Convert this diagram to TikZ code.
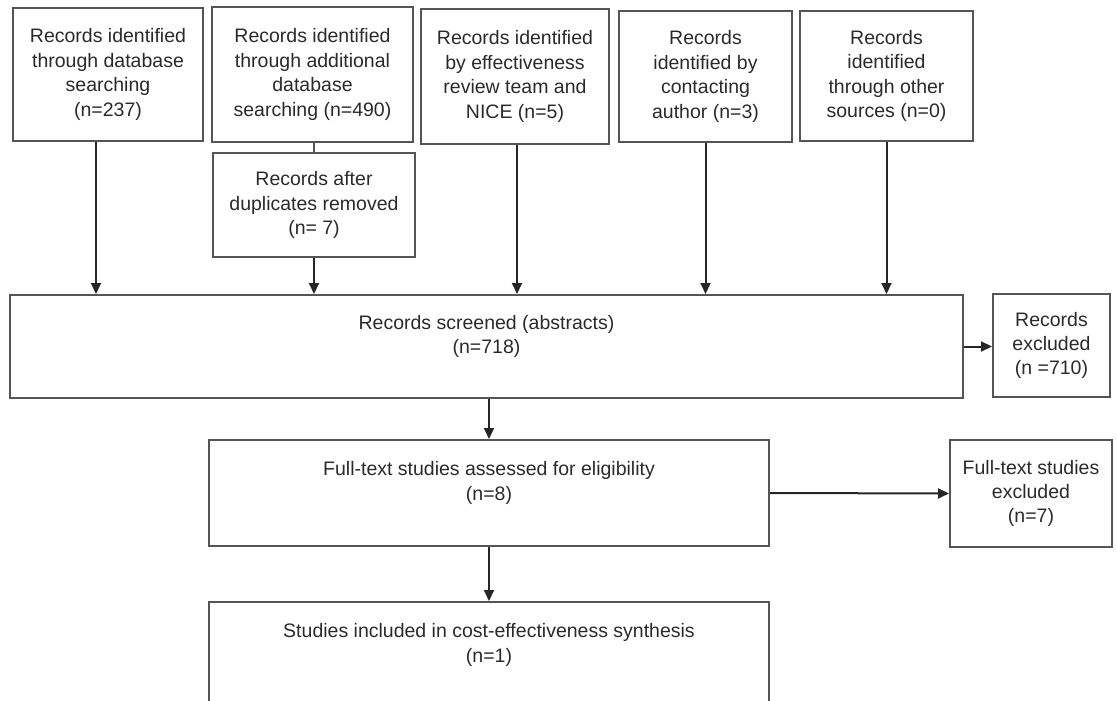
\documentclass[tikz,border=0pt]{standalone}
\usepackage{fontspec}
\setmainfont{Liberation Sans}
\usetikzlibrary{arrows.meta}
\definecolor{boxgray}{HTML}{555555}
\definecolor{txtgray}{HTML}{2A2A2A}

\begin{document}
\begin{tikzpicture}[x=1pt, y=-1pt,
        box/.style={draw=boxgray, line width=2pt, rectangle, align=center, inner sep=0pt,
            text=txtgray, font=\fontsize{19.5}{24.4}\selectfont},
        arr/.style={line width=2pt, draw=black!85, -{Triangle[length=11pt, width=10pt]}}]
        \useasboundingbox (0,0) rectangle (1117,701);

        % Quellen
        \node[box, minimum width=190, minimum height=133] (src1) at (108,74.5) {Records identified\\through database\\searching\\(n=237)};
        \node[box, minimum width=201, minimum height=135] (src2) at (312.5,74.5) {Records identified\\through additional\\database\\searching (n=490)};
        \node[box, minimum width=188, minimum height=135] (src3) at (515,76.5) {Records identified\\by effectiveness\\review team and\\NICE (n=5)};
        \node[box, minimum width=173, minimum height=131] (src4) at (705.5,76.5) {Records\\identified by\\contacting\\author (n=3)};
        \node[box, minimum width=173, minimum height=130] (src5) at (886.5,76) {Records\\identified\\through other\\sources (n=0)};
        \node[box, minimum width=202, minimum height=104] (dedup) at (314,205) {Records after\\duplicates removed\\(n= 7)};

        \node[box, minimum width=953, minimum height=103] (screened) at (486.5,346.5) {Records screened (abstracts)\\(n=718)\\\mbox{}};
        \node[box, minimum width=117, minimum height=103] (excl1) at (1051.5,345.5) {Records\\excluded\\(n =710)};
        \node[box, minimum width=560, minimum height=106] (fulltext) at (489,493) {Full-text studies assessed for eligibility\\(n=8)\\\mbox{}};
        \node[box, minimum width=162, minimum height=107] (excl2) at (1031,493.5) {Full-text studies\\excluded\\(n=7)};
        \node[box, minimum width=560, minimum height=106] (included) at (489,655) {Studies included in cost-effectiveness synthesis\\(n=1)\\\mbox{}};

        % Pfeile
        \draw[arr] ([xshift=-12pt]src1.south) -- ([xshift=-12pt]src1.south |- screened.north);
        \draw[line width=2pt, draw=boxgray] (dedup.north |- src2.south) -- (dedup.north);
        \draw[arr] (dedup.south) -- (dedup.south |- screened.north);
        \draw[arr] ([xshift=2pt]src3.south) -- ([xshift=2pt]src3.south |- screened.north);
        \draw[arr] (src4.south) -- (src4.south |- screened.north);
        \draw[arr] (src5.south) -- (src5.south |- screened.north);
        \draw[arr] (screened.east) -- (screened.east -| excl1.west);
        \draw[arr] (fulltext.north |- screened.south) -- (fulltext.north);
        \draw[arr] (fulltext.east) -- (excl2.west);
        \draw[arr] (fulltext.south) -- (included.north);
    \end{tikzpicture}
\end{document}
